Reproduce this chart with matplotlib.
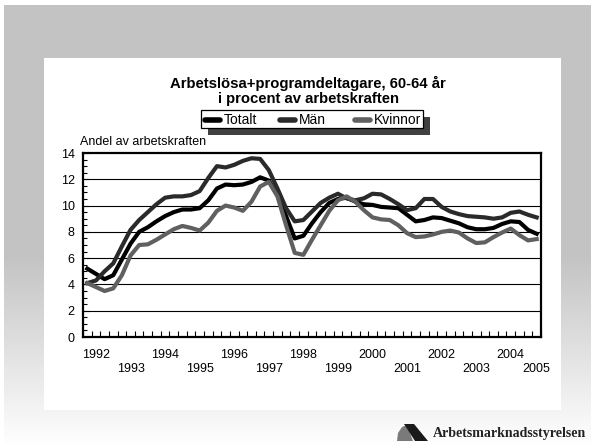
import numpy as np
import matplotlib
matplotlib.use("Agg")
import matplotlib.pyplot as plt
from matplotlib.patches import Rectangle, Polygon
from matplotlib.lines import Line2D
from matplotlib.ticker import MultipleLocator, FixedLocator

plt.rcParams['font.family'] = ['Liberation Sans', 'DejaVu Sans']

# kvartalsvärden 1992 - 2005, procent av arbetskraften
totalt = [5.2, 4.8, 4.4, 4.7, 5.9, 7.1, 8.0, 8.35, 8.8, 9.2, 9.5, 9.7, 9.7, 9.8,
          10.4, 11.3, 11.6, 11.55, 11.6, 11.8, 12.15, 11.9, 10.8, 9.2, 7.5, 7.7,
          8.65, 9.5, 10.2, 10.5, 10.6, 10.3, 10.1, 10.05, 9.9, 9.85, 9.8, 9.3,
          8.8, 8.9, 9.1, 9.05, 8.85, 8.65, 8.35, 8.2, 8.2, 8.3, 8.6, 8.8, 8.75,
          8.15, 7.85]
man = [4.1, 4.3, 5.0, 5.6, 6.9, 8.15, 8.9, 9.5, 10.1, 10.6, 10.7, 10.7, 10.8,
       11.1, 12.1, 13.0, 12.9, 13.1, 13.4, 13.6, 13.55, 12.7, 11.3, 9.8, 8.8,
       8.9, 9.55, 10.2, 10.6, 10.9, 10.55, 10.4, 10.55, 10.9, 10.85, 10.5, 10.1,
       9.65, 9.8, 10.5, 10.5, 9.9, 9.55, 9.35, 9.2, 9.15, 9.1, 9.0, 9.1, 9.45,
       9.55, 9.3, 9.1]
kvinnor = [4.1, 3.8, 3.5, 3.7, 4.7, 6.2, 7.0, 7.05, 7.4, 7.8, 8.2, 8.45, 8.3,
           8.1, 8.7, 9.6, 10.0, 9.85, 9.6, 10.3, 11.45, 11.8, 10.7, 8.5, 6.4,
           6.25, 7.4, 8.5, 9.6, 10.4, 10.7, 10.3, 9.65, 9.1, 8.95, 8.9, 8.5, 7.9,
           7.6, 7.65, 7.8, 8.0, 8.1, 7.95, 7.5, 7.15, 7.2, 7.6, 7.95, 8.25, 7.75,
           7.35, 7.45]
ar = [str(a) for a in range(1992, 2006)]
ar_pos = [1, 5, 9, 13, 17, 21, 25, 29, 33, 37, 41, 45, 49, 52]

serier = ['Totalt', 'Män', 'Kvinnor']
farger = ['#000000', '#2a2a2a', '#606060']

W, H = 591, 447
fig = plt.figure(figsize=(W / 100, H / 100), dpi=100)
fig.patch.set_facecolor('white')

# grå bakgrund som tonar ut mot botten
bg = fig.add_axes([4 / W, 0, (W - 4) / W, (H - 5) / H])
bg.axis('off')
rows = np.arange(442)
g = np.where(rows < 250, 195, 195 + 60 * (rows - 250) / 190.0)
g = np.clip(g, 0, 255) / 255.0
bg.imshow(np.repeat(g[:, None], 2, axis=1)[:, :, None].repeat(3, axis=2),
          aspect='auto', extent=[0, 1, 0, 1], origin='upper')
bg.set_xlim(0, 1)
bg.set_ylim(0, 1)

# vit ruta
fig.patches.append(Rectangle((44 / W, 1 - 410 / H), 517 / W, 352 / H,
                             transform=fig.transFigure, facecolor='white',
                             edgecolor='none', zorder=1))

ax = fig.add_axes([83 / W, 1 - 337 / H, 458 / W, 184 / H], zorder=3)
x = np.arange(len(totalt))
for namn, data, c in zip(serier, [totalt, man, kvinnor], farger):
    ax.plot(x, data, color=c, lw=3.0, solid_joinstyle='round', label=namn)

ax.set_xlim(-0.5, len(totalt) - 0.5)
ax.set_ylim(0, 14)
ax.set_yticks(range(0, 15, 2))
ax.yaxis.set_minor_locator(MultipleLocator(0.5))
for v in range(2, 14, 2):
    ax.axhline(v, color='black', lw=0.8, zorder=0)

labels = [a if i % 2 == 0 else '\n' + a for i, a in enumerate(ar)]
ax.set_xticks(ar_pos)
ax.set_xticklabels(labels)
ax.xaxis.set_minor_locator(FixedLocator(np.arange(-0.5, len(totalt), 1.0)))
ax.tick_params(axis='x', which='major', length=0, pad=9, labelsize=9)
ax.tick_params(axis='x', which='minor', direction='in', length=4, width=0.8)
ax.tick_params(axis='y', which='major', direction='in', length=4, width=0.8,
               pad=6, labelsize=9)
ax.tick_params(axis='y', which='minor', direction='in', length=3, width=0.8)
for s in ax.spines.values():
    s.set_linewidth(1.6)

fig.text(308 / W, 1 - 83.5 / H, 'Arbetslösa+programdeltagare, 60-64 år',
         ha='center', va='center', fontsize=10.7, fontweight='bold')
fig.text(308 / W, 1 - 99 / H, 'i procent av arbetskraften',
         ha='center', va='center', fontsize=10.7, fontweight='bold')
fig.text(80 / W, 1 - 142 / H, 'Andel av arbetskraften', ha='left',
         va='center', fontsize=9)

# förklaring med skugga
lx0, lx1, ly0, ly1 = 201, 423, 110, 128
fig.patches.append(Rectangle(((lx0 + 7) / W, 1 - (ly1 + 7) / H),
                             (lx1 - lx0) / W, (ly1 - ly0) / H,
                             transform=fig.transFigure, facecolor='#404040',
                             edgecolor='none', zorder=4))
fig.patches.append(Rectangle((lx0 / W, 1 - ly1 / H), (lx1 - lx0) / W,
                             (ly1 - ly0) / H, transform=fig.transFigure,
                             facecolor='white', edgecolor='black', lw=0.9,
                             zorder=5))
for (hx, tx), namn, c in zip([(205, 224), (280, 299), (355, 374)], serier, farger):
    fig.add_artist(Line2D([(hx) / W, (hx + 15) / W], [1 - 119.5 / H] * 2,
                          transform=fig.transFigure, color=c, lw=4.0,
                          solid_capstyle='round', zorder=6))
    fig.text(tx / W, 1 - 119.5 / H, namn, ha='left', va='center', fontsize=10,
             zorder=6)

# logotyp
fig.patches.append(Polygon([(397 / W, 1 - 441 / H), (398 / W, 1 - 433 / H),
                            (402 / W, 1 - 427 / H), (407 / W, 1 - 425 / H),
                            (413 / W, 1 - 441 / H)], closed=True,
                           transform=fig.transFigure, facecolor='#7a7a7a',
                           edgecolor='none', zorder=2))
fig.patches.append(Polygon([(404 / W, 1 - 424 / H), (414 / W, 1 - 424 / H),
                            (428 / W, 1 - 441 / H), (415 / W, 1 - 441 / H)],
                           closed=True, transform=fig.transFigure,
                           facecolor='#1a1a1a', edgecolor='none', zorder=2))
fig.text(433 / W, 1 - 433 / H, 'Arbetsmarknadsstyrelsen', ha='left',
         va='center', fontsize=10, fontweight='bold', color='#222222',
         family='Liberation Serif')

fig.savefig('out.png', dpi=100)
